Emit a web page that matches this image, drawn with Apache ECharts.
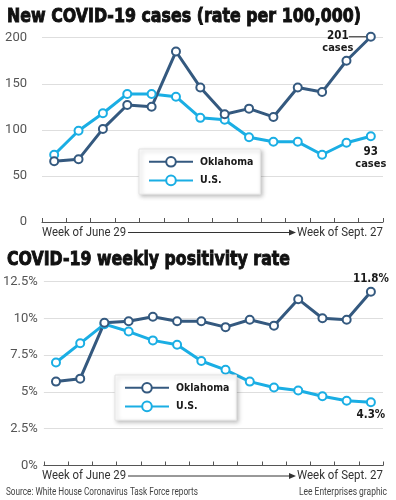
<!DOCTYPE html>
<html><head><meta charset="utf-8">
<script src="https://cdn.jsdelivr.net/npm/echarts@6/dist/echarts.min.js"></script>
<style>html,body{margin:0;padding:0;background:#fff}#c{width:396px;height:500px}</style>
</head><body><div id="c"></div>
<script>
// ---- data ----
const weeks = ['Jun 29','Jul 6','Jul 13','Jul 20','Jul 27','Aug 3','Aug 10','Aug 17','Aug 24','Aug 31','Sep 7','Sep 14','Sep 21','Sep 27'];
const okCases = [66, 68, 101, 127, 125, 185, 146, 117, 123, 114, 146, 141, 175, 201];
const usCases = [73, 99, 118, 139, 139, 136, 113, 111, 92, 87, 87, 73, 86, 93];
const okPos = [5.7, 5.9, 9.7, 9.8, 10.1, 9.8, 9.8, 9.4, 9.9, 9.5, 11.3, 10.0, 9.9, 11.8];
const usPos = [7.0, 8.3, 9.6, 9.1, 8.5, 8.2, 7.1, 6.5, 5.7, 5.3, 5.1, 4.7, 4.4, 4.3];
const seriesNames = ['Oklahoma', 'U.S.'];
const xEndLabels = ['Week of June 29', 'Week of Sept. 27'];
const titles = ['New COVID-19 cases (rate per 100,000)', 'COVID-19 weekly positivity rate'];
const sourceText = 'Source: White House Coronavirus Task Force reports';
const creditText = 'Lee Enterprises graphic';

// ---- style ----
const OK_COLOR = '#34597f', US_COLOR = '#1aaee4';
const HEAVY = '"DejaVu Sans Condensed","DejaVu Sans",sans-serif';
const LIGHT = 'Roboto, "Open Sans", sans-serif';
const GRID_L = 42, GRID_R = 13, W = 396;

const chart = echarts.init(document.getElementById('c'), null, {renderer: 'canvas'});

const lblRich = {
  v: {fontFamily: HEAVY, fontWeight: 'bold', fontSize: 11.5, color: '#1a1a1a', lineHeight: 12},
  c: {fontFamily: HEAVY, fontWeight: 'bold', fontSize: 11, color: '#1a1a1a', lineHeight: 12}
};

function lineSeries(name, data, color, idx, lastLabel) {
  return {
    type: 'line', name, xAxisIndex: idx, yAxisIndex: idx, clip: false,
    data: data.map((v, i) => (i === data.length - 1 && lastLabel)
      ? {value: v, label: Object.assign({show: true, rich: lblRich}, lastLabel)} : v),
    symbol: 'emptyCircle', symbolSize: 8, showAllSymbol: true,
    lineStyle: {color, width: 3},
    itemStyle: {color, borderColor: color, borderWidth: 2.5},
    label: {show: false},
    emphasis: {disabled: true},
    animation: false
  };
}

function xAxis(idx) {
  return {
    type: 'category', gridIndex: idx, data: weeks, boundaryGap: true,
    axisLine: {lineStyle: {color: '#555', width: 1}},
    axisTick: {show: true, inside: true, length: 4, interval: 0, lineStyle: {color: '#555'}},
    axisLabel: {show: false}, splitLine: {show: false}
  };
}
function yAxis(idx, max, interval, margin, fmt) {
  return {
    type: 'value', gridIndex: idx, min: 0, max, interval,
    axisLine: {show: false}, axisTick: {show: false},
    axisLabel: {margin, color: '#555', fontSize: 13, fontFamily: LIGHT, formatter: fmt},
    splitLine: {lineStyle: {color: '#dedede', width: 1}}
  };
}
function legend(left, top) {
  return {
    orient: 'vertical', left, top, data: seriesNames,
    itemWidth: 44, itemHeight: 12, itemGap: 7,
    padding: [7, 7, 8, 9],
    backgroundColor: '#fff', borderColor: '#e4e4e4', borderWidth: 1,
    shadowBlur: 4, shadowColor: 'rgba(0,0,0,0.25)', shadowOffsetX: 2, shadowOffsetY: 2,
    selectedMode: false,
    textStyle: {fontFamily: HEAVY, fontWeight: 'bold', fontSize: 10.5, color: '#1a1a1a', padding: [0, 0, 0, 2]}
  };
}

const option = {
  animation: false,
  backgroundColor: '#fff',
  grid: [
    {left: GRID_L, right: GRID_R, top: 37.7, height: 184.3},
    {left: GRID_L, right: GRID_R, top: 281.5, height: 184}
  ],
  xAxis: [xAxis(0), xAxis(1)],
  yAxis: [
    yAxis(0, 200, 50, 15, v => String(v)),
    yAxis(1, 12.5, 2.5, 6, v => v + '%')
  ],
  legend: [legend(139, 149), legend(115, 375)],
  series: [
    lineSeries(seriesNames[1], usCases, US_COLOR, 0,
      {position: 'bottom', distance: 5, align: 'center', formatter: p => `{v|${p.value}}\n{c|cases}`}),
    lineSeries(seriesNames[0], okCases, OK_COLOR, 0,
      {position: 'left', distance: 28, offset: [0, 5], align: 'center', formatter: p => `{v|${p.value}}\n{c|cases}`}),
    lineSeries(seriesNames[1], usPos, US_COLOR, 1,
      {position: 'bottom', distance: 2, formatter: p => `{v|${p.value}%}`}),
    lineSeries(seriesNames[0], okPos, OK_COLOR, 1,
      {position: 'top', distance: 2, formatter: p => `{v|${p.value}%}`})
  ]
};
chart.setOption(option);

// ---- text fitted to the reference widths (horizontal scaling) ----
const mctx = document.createElement('canvas').getContext('2d');
function fitText(text, x, y, width, size, family, weight, fill, align, strokeW) {
  mctx.font = `${weight} ${size}px ${family}`;
  const w = mctx.measureText(text).width;
  const style = {text, fontSize: size, fontFamily: family, fontWeight: weight, fill,
    align: align || 'left', verticalAlign: 'middle'};
  if (strokeW) { style.stroke = fill; style.lineWidth = strokeW; }
  return {type: 'text', x, y, scaleX: width / w, scaleY: 1, silent: true, style};
}

function axisFooter(gridIdx) {
  const y0 = chart.convertToPixel({yAxisIndex: gridIdx}, 0) + 10.5;
  return [
    fitText(xEndLabels[0], GRID_L, y0, 84, 13, LIGHT, 'normal', '#333', 'left'),
    fitText(xEndLabels[1], W - GRID_R, y0, 86, 13, LIGHT, 'normal', '#333', 'right'),
    {type: 'line', shape: {x1: 128, y1: y0, x2: 290, y2: y0}, style: {stroke: '#333', lineWidth: 1}},
    {type: 'polygon', shape: {points: [[289, y0 - 3], [296, y0], [289, y0 + 3]]}, style: {fill: '#333'}}
  ];
}
const last = okCases.length - 1;
const p201 = chart.convertToPixel({xAxisIndex: 0, yAxisIndex: 0}, [last, okCases[last]]);
const graphics = [].concat(
  [fitText(titles[0], 7, 16.5, 354, 20, HEAVY, 'bold', '#111', 'left', 0.9),
   fitText(titles[1], 7, 260, 283, 20, HEAVY, 'bold', '#111', 'left', 0.9)],
  axisFooter(0), axisFooter(1), [
  {type: 'line', shape: {x1: p201[0] - 22, y1: p201[1], x2: p201[0] - 4, y2: p201[1]}, style: {stroke: '#222', lineWidth: 1}},
  fitText(sourceText, 6, 492, 192, 10, LIGHT, 'normal', '#444', 'left'),
  fitText(creditText, 387, 492, 88, 10, LIGHT, 'normal', '#444', 'right')
]);
chart.setOption({graphic: graphics});
</script>
</body></html>
